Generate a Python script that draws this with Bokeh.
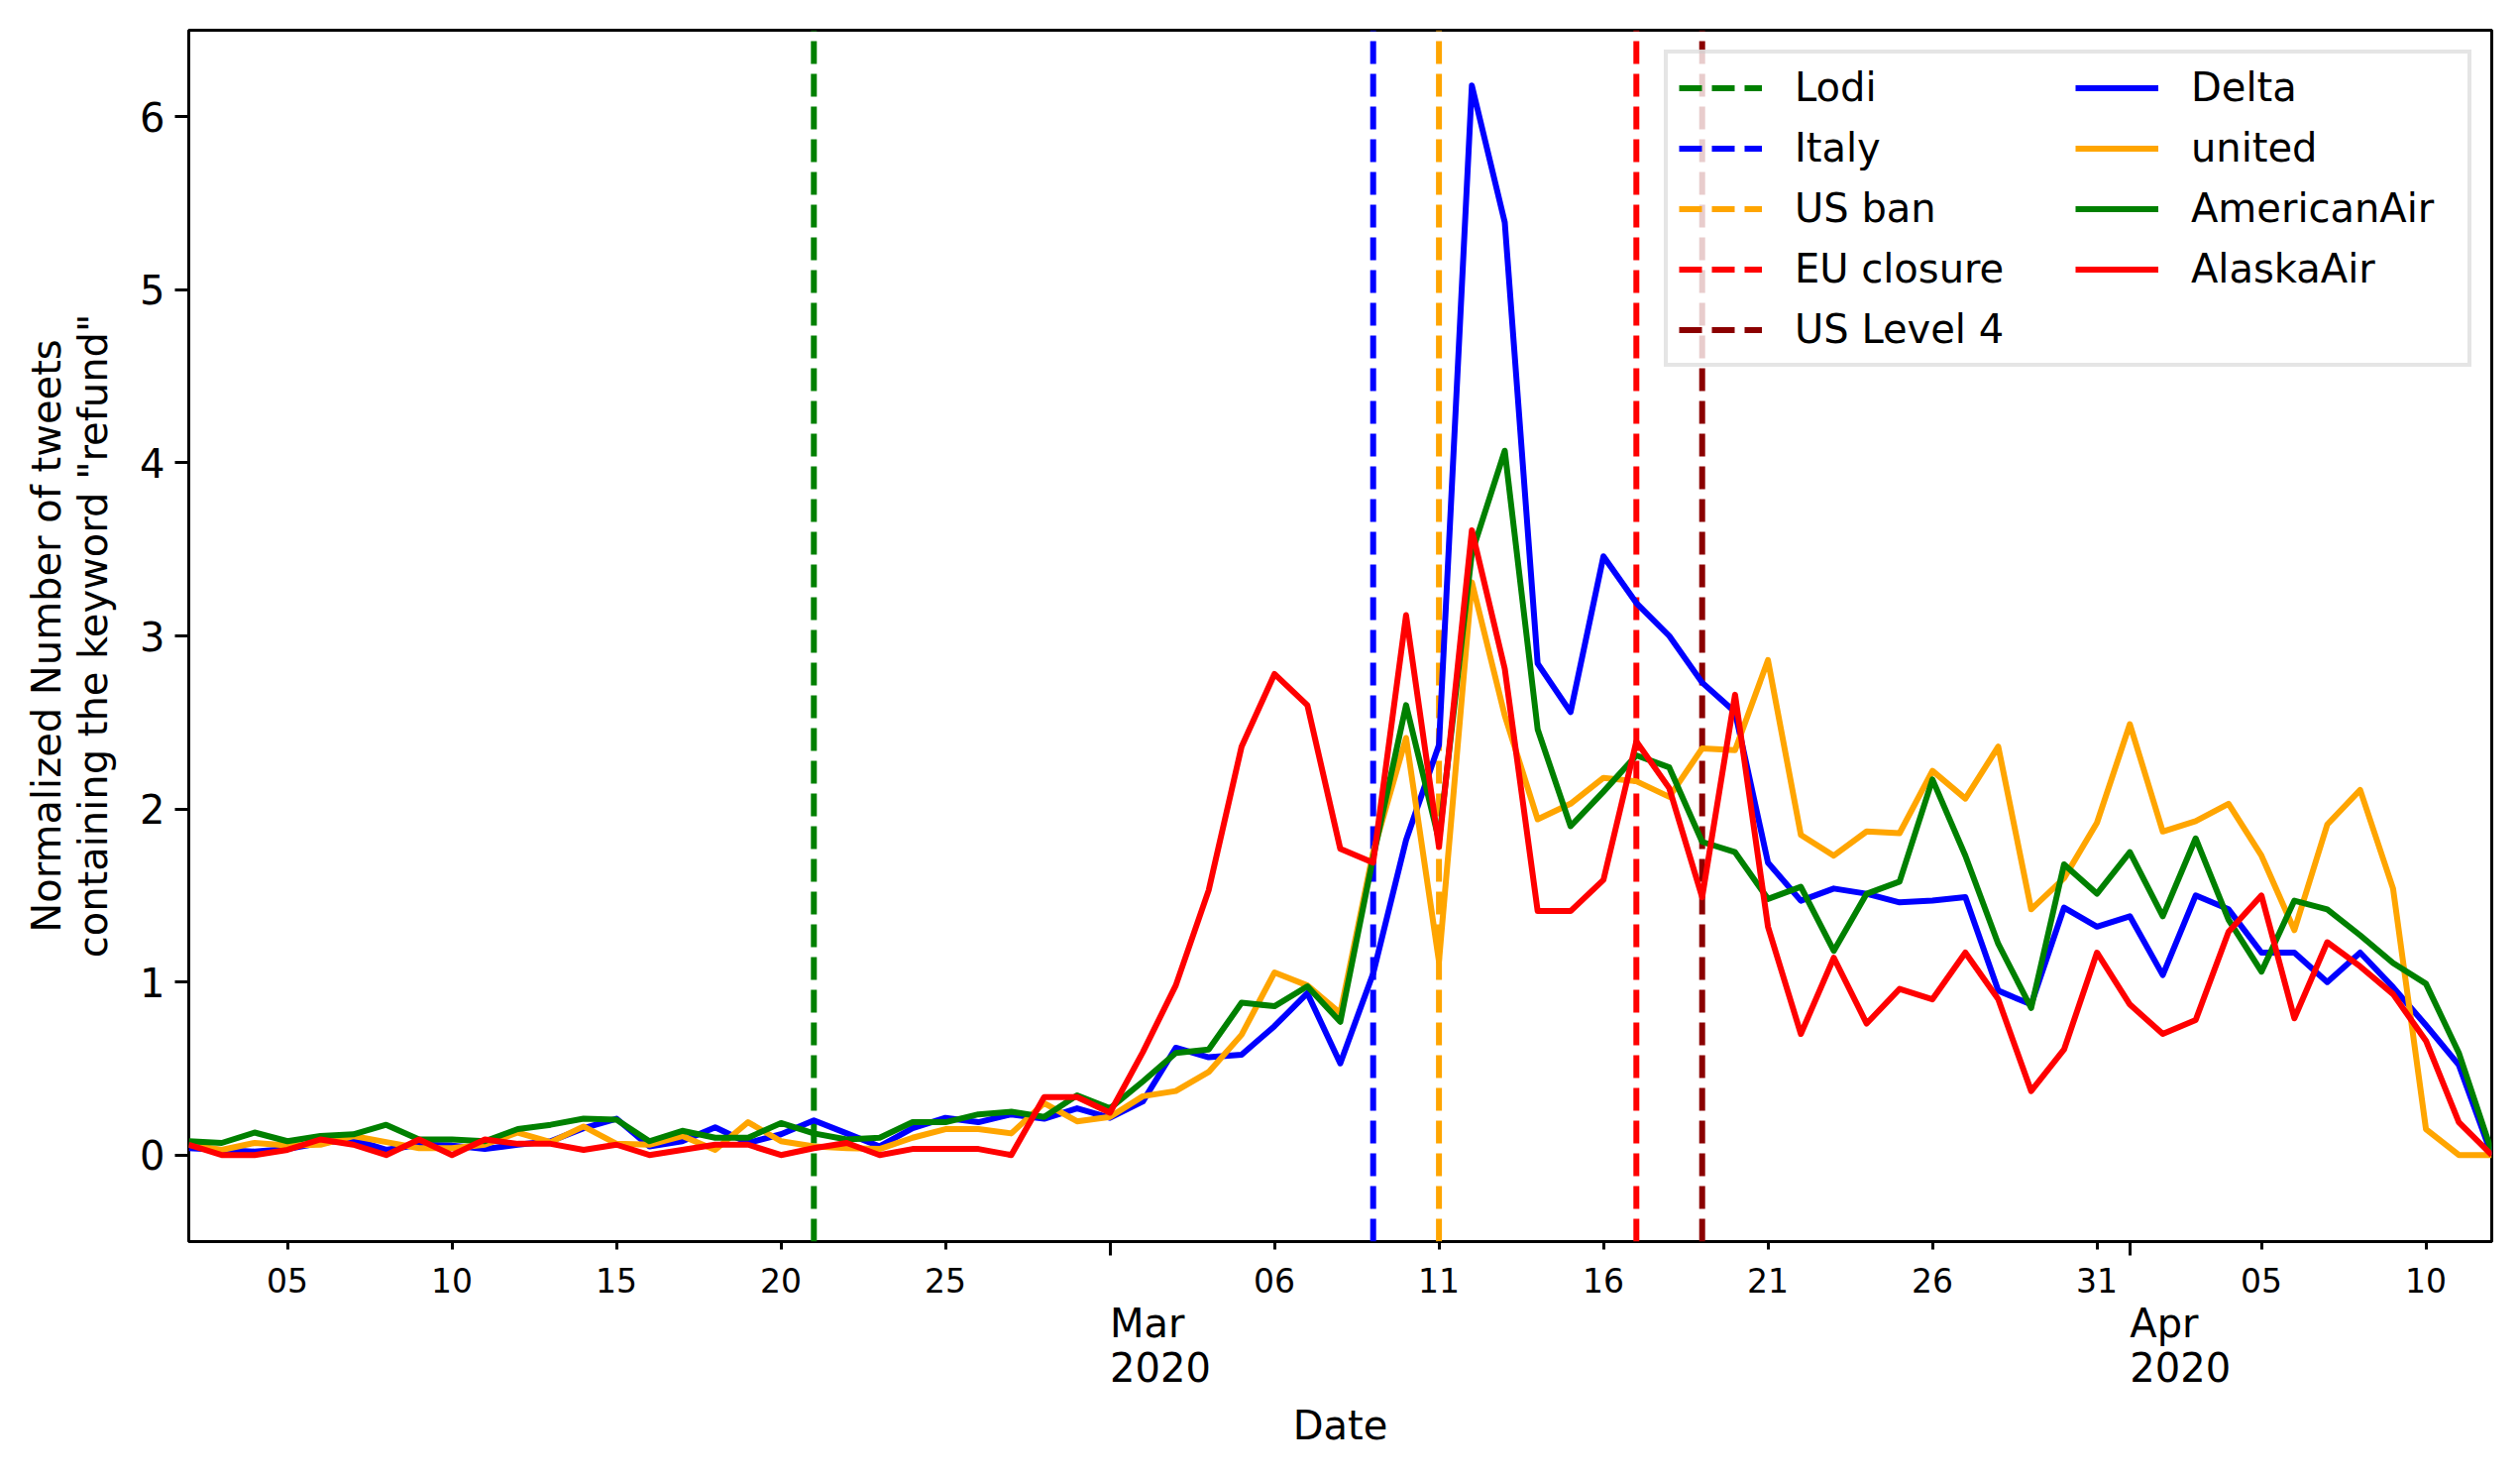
import pandas as pd
from bokeh.plotting import figure
from bokeh.models import Range1d, FixedTicker, Legend, LegendItem, DatetimeAxis
from bokeh.embed import file_html
from bokeh.resources import INLINE

# ---------------- data ----------------
dates = pd.date_range("2020-02-02", "2020-04-12", freq="D")

delta = [0.04, 0.03, 0.02, 0.035, 0.07, 0.09, 0.03, 0.06, 0.055, 0.035,
         0.06, 0.08, 0.155, 0.21, 0.05, 0.08, 0.16, 0.07, 0.12, 0.20,
         0.125, 0.05, 0.155, 0.215, 0.19, 0.235, 0.21, 0.27, 0.215, 0.31,
         0.62, 0.565, 0.58, 0.745, 0.935, 0.53, 1.05, 1.82, 2.37, 6.18,
         5.39, 2.84, 2.56, 3.46, 3.19, 3.0, 2.73, 2.56, 1.69, 1.47,
         1.54, 1.51, 1.46, 1.47, 1.49, 0.95, 0.87, 1.43, 1.32, 1.38,
         1.04, 1.50, 1.42, 1.17, 1.17, 1.00, 1.17, 0.97, 0.75, 0.52, 0.0]

united = [0.06, 0.03, 0.07, 0.055, 0.06, 0.11, 0.075, 0.04, 0.04, 0.06,
          0.13, 0.075, 0.165, 0.065, 0.06, 0.11, 0.03, 0.19, 0.08, 0.05,
          0.04, 0.035, 0.10, 0.15, 0.15, 0.125, 0.30, 0.195, 0.22, 0.34,
          0.37, 0.48, 0.695, 1.055, 0.98, 0.82, 1.75, 2.41, 1.12, 3.31,
          2.54, 1.94, 2.03, 2.18, 2.16, 2.07, 2.35, 2.34, 2.86, 1.85,
          1.73, 1.87, 1.86, 2.22, 2.06, 2.36, 1.42, 1.60, 1.92, 2.49,
          1.87, 1.93, 2.03, 1.73, 1.30, 1.91, 2.11, 1.54, 0.15, 0.0, 0.0]

american = [0.08, 0.07, 0.13, 0.08, 0.11, 0.12, 0.175, 0.09, 0.09, 0.08,
            0.15, 0.175, 0.21, 0.205, 0.08, 0.14, 0.10, 0.10, 0.185, 0.125,
            0.09, 0.10, 0.19, 0.19, 0.235, 0.25, 0.22, 0.345, 0.27, 0.425,
            0.59, 0.61, 0.88, 0.86, 0.975, 0.77, 1.72, 2.60, 1.82, 3.48,
            4.07, 2.46, 1.90, 2.10, 2.31, 2.24, 1.81, 1.75, 1.48, 1.55,
            1.18, 1.51, 1.58, 2.17, 1.73, 1.22, 0.85, 1.68, 1.51, 1.75,
            1.38, 1.83, 1.36, 1.06, 1.47, 1.42, 1.27, 1.11, 0.99, 0.59, 0.02]

alaska = [0.06, 0.0, 0.0, 0.03, 0.09, 0.06, 0.0, 0.09, 0.0, 0.09,
          0.065, 0.065, 0.03, 0.06, 0.0, 0.03, 0.06, 0.06, 0.0, 0.04,
          0.07, 0.0, 0.035, 0.035, 0.035, 0.0, 0.335, 0.335, 0.245, 0.595,
          0.98, 1.53, 2.36, 2.78, 2.60, 1.77, 1.69, 3.12, 1.78, 3.61,
          2.81, 1.41, 1.41, 1.59, 2.39, 2.12, 1.49, 2.66, 1.32, 0.70,
          1.14, 0.76, 0.96, 0.90, 1.17, 0.90, 0.37, 0.61, 1.17, 0.87,
          0.70, 0.78, 1.29, 1.50, 0.79, 1.23, 1.09, 0.93, 0.66, 0.19, 0.0]

series_names = ["Delta", "united", "AmericanAir", "AlaskaAir"]
series_values = [delta, united, american, alaska]
series_colors = ["blue", "orange", "green", "red"]

event_names = ["Lodi", "Italy", "US ban", "EU closure", "US Level 4"]
event_dates = ["2020-02-21", "2020-03-09", "2020-03-11", "2020-03-17", "2020-03-19"]
event_colors = ["green", "blue", "orange", "red", "darkred"]

tick_dates = ["2020-02-05", "2020-02-10", "2020-02-15", "2020-02-20", "2020-02-25",
              "2020-03-01", "2020-03-06", "2020-03-11", "2020-03-16", "2020-03-21",
              "2020-03-26", "2020-03-31", "2020-04-01", "2020-04-05", "2020-04-10"]
tick_labels = ["05", "10", "15", "20", "25", "", "06", "11", "16", "21",
               "26", "31", "", "05", "10"]
month_dates = ["2020-03-01", "2020-04-01"]
month_names = ["Mar", "Apr"]
month_years = ["2020", "2020"]

y_ticks = [0, 1, 2, 3, 4, 5, 6]
y_min, y_max = -0.5, 6.5
x_start, x_end = "2020-02-02", "2020-04-12"

FONT = "DejaVu Sans"
W, H = 2535, 1483
B_LEFT, B_RIGHT, B_TOP, B_BOTTOM = 190, 21, 30, 231
MONTH_FONT_PX = 40
# DejaVu Sans advance widths (em) used to left-align the month/year labels
CHAR_EM = {"M": 0.8628, "a": 0.6128, "r": 0.4111, "A": 0.6840, "p": 0.6348,
           "2": 0.6362, "0": 0.6362}


def ms(d):
    return int(pd.Timestamp(d).value // 10**6)


frame_w = W - B_LEFT - B_RIGHT
ms_per_px = (ms(x_end) - ms(x_start)) / frame_w


def left_aligned_tick(d, text):
    half_px = sum(CHAR_EM[c] for c in text) * MONTH_FONT_PX / 2
    return int(round(ms(d) + half_px * ms_per_px))


p = figure(width=W, height=H, x_axis_type="datetime",
           output_backend="svg", toolbar_location=None,
           x_range=Range1d(ms(x_start), ms(x_end)),
           y_range=Range1d(y_min, y_max),
           min_border_left=B_LEFT, min_border_right=B_RIGHT,
           min_border_top=B_TOP, min_border_bottom=B_BOTTOM)

p.background_fill_color = "white"
p.border_fill_color = "white"
p.outline_line_color = "black"
p.outline_line_width = 3
p.xgrid.visible = False
p.ygrid.visible = False

legend_items = []

# vertical event lines (drawn first, beneath the series)
for name, d, c in zip(event_names, event_dates, event_colors):
    r = p.segment(x0=[pd.Timestamp(d)], x1=[pd.Timestamp(d)], y0=[y_min], y1=[y_max],
                  line_color=c, line_width=6, line_dash="23 10")
    legend_items.append(LegendItem(label=name, renderers=[r]))

for name, vals, c in zip(series_names, series_values, series_colors):
    r = p.line(x=dates, y=vals, line_color=c, line_width=6, line_join="round")
    legend_items.append(LegendItem(label=name, renderers=[r]))

# x axis (day ticks)
xa = p.xaxis[0]
xa.ticker = FixedTicker(ticks=[ms(d) for d in tick_dates],
                        minor_ticks=[ms(d) for d in month_dates])
xa.major_label_overrides = {ms(d): lab for d, lab in zip(tick_dates, tick_labels)}
xa.axis_line_color = None
xa.major_tick_out = 8
xa.major_tick_in = 0
xa.minor_tick_out = 14
xa.minor_tick_in = 0
xa.major_tick_line_width = 3
xa.minor_tick_line_width = 3
xa.major_tick_line_color = "black"
xa.minor_tick_line_color = "black"
xa.major_label_text_font = FONT
xa.major_label_text_font_size = "33px"
xa.major_label_text_color = "black"
xa.major_label_standoff = 12


def label_axis(texts, standoff):
    ticks = [left_aligned_tick(d, t) for d, t in zip(month_dates, texts)]
    ax = DatetimeAxis(ticker=FixedTicker(ticks=ticks, minor_ticks=[]))
    ax.major_label_overrides = {t: s for t, s in zip(ticks, texts)}
    ax.axis_line_color = None
    ax.major_tick_line_color = None
    ax.minor_tick_line_color = None
    ax.major_tick_out = 0
    ax.major_tick_in = 0
    ax.major_label_standoff = standoff
    ax.major_label_text_font = FONT
    ax.major_label_text_font_size = f"{MONTH_FONT_PX}px"
    ax.major_label_text_color = "black"
    return ax


# month row, then year row with the axis title
ma = label_axis(month_names, 5)
p.add_layout(ma, "below")
yr = label_axis(month_years, 3)
yr.axis_label = "Date"
yr.axis_label_text_font = FONT
yr.axis_label_text_font_size = "40px"
yr.axis_label_text_font_style = "normal"
yr.axis_label_text_color = "black"
yr.axis_label_standoff = 18
p.add_layout(yr, "below")

# y axis
ya = p.yaxis[0]
ya.ticker = FixedTicker(ticks=y_ticks, minor_ticks=[])
ya.axis_line_color = None
ya.major_tick_out = 14
ya.major_tick_in = 0
ya.major_tick_line_width = 3
ya.major_label_text_font = FONT
ya.major_label_text_font_size = "40px"
ya.major_label_text_color = "black"
ya.major_label_standoff = 10
ya.axis_label = 'Normalized Number of tweets\ncontaining the keyword "refund"'
ya.axis_label_text_font = FONT
ya.axis_label_text_font_size = "40px"
ya.axis_label_text_font_style = "normal"
ya.axis_label_text_color = "black"
ya.axis_label_text_line_height = 1.02
ya.axis_label_standoff = 21

legend = Legend(items=legend_items, location="top_right", nrows=5,
                label_text_font=FONT, label_text_font_size="40px",
                label_text_color="black",
                glyph_width=84, glyph_height=25, label_height=25, label_width=268,
                label_standoff=33, spacing=15, padding=11, margin=20,
                border_line_color="#cccccc", border_line_width=4,
                background_fill_color="white", background_fill_alpha=0.8)
p.add_layout(legend)

open("out.html", "w").write(file_html(p, INLINE))
